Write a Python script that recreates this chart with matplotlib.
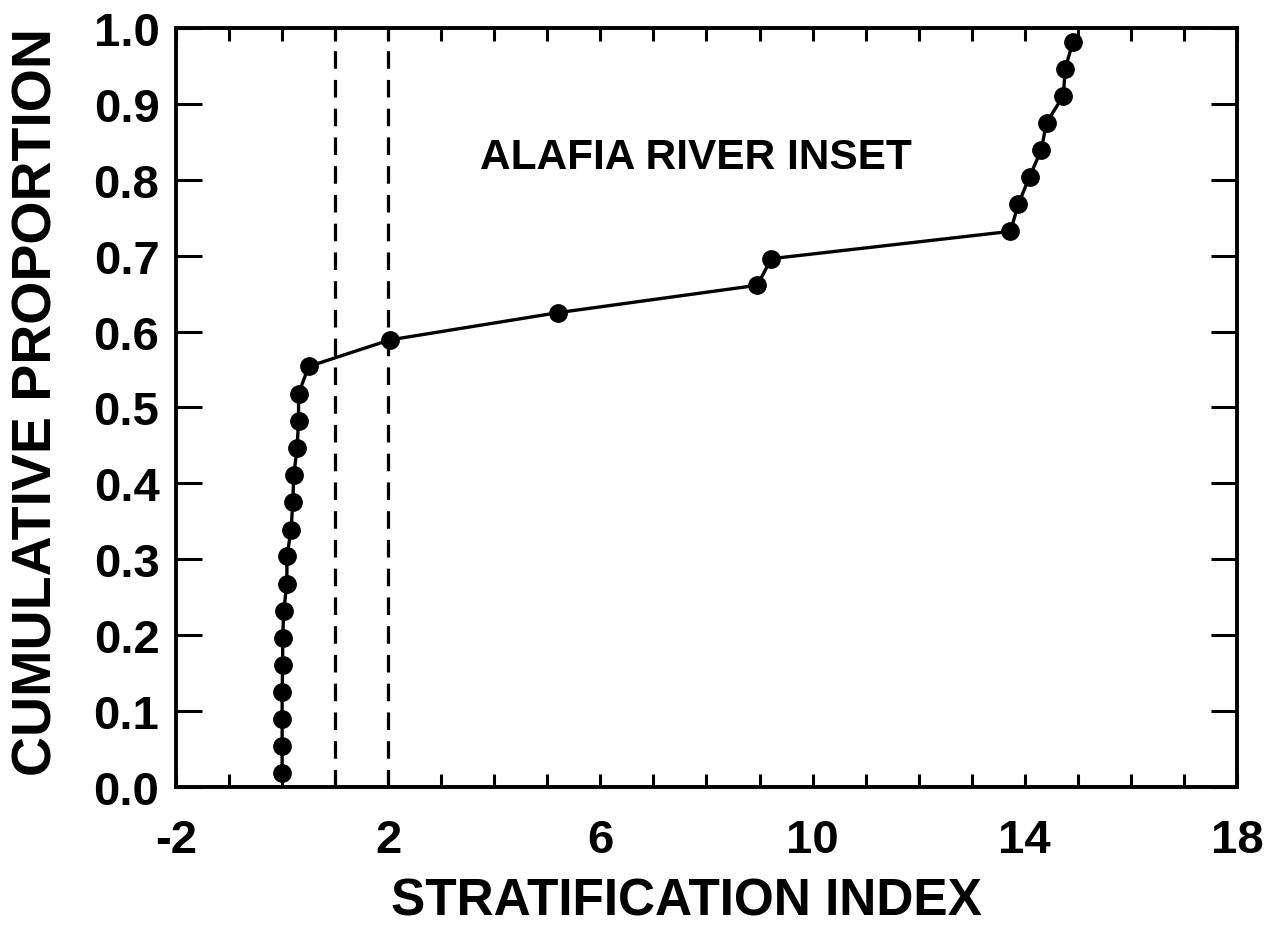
import matplotlib.pyplot as plt
from matplotlib.ticker import MultipleLocator, FixedLocator

plt.rcParams['font.family'] = ['Liberation Sans', 'DejaVu Sans']
plt.rcParams['font.weight'] = 'bold'
plt.rcParams['axes.unicode_minus'] = False

# stratification index per station, sorted, with plotting-position proportions
strat_index = [0.0, 0.0, 0.0, 0.0, 0.01, 0.01, 0.03, 0.09, 0.09, 0.17,
               0.2, 0.22, 0.28, 0.31, 0.31, 0.5, 2.03, 5.21, 8.96, 9.22,
               13.73, 13.88, 14.09, 14.31, 14.41, 14.73, 14.76, 14.91]
cum_prop = [0.018, 0.054, 0.089, 0.125, 0.161, 0.196, 0.232, 0.268, 0.304,
            0.339, 0.375, 0.411, 0.446, 0.482, 0.518, 0.554, 0.589, 0.625,
            0.661, 0.696, 0.732, 0.768, 0.804, 0.839, 0.875, 0.911, 0.946,
            0.982]
thresholds = [1, 2]
x_ticklabels = [-2, 2, 6, 10, 14, 18]

fig = plt.figure(figsize=(12.85, 9.28), dpi=100)
ax = fig.add_axes([0.137, 0.1509, 0.8256, 0.8179])

for t in thresholds:
    ax.axvline(t, color='black', lw=2.3, linestyle=(0, (5.5, 3.5)), zorder=1)

ax.plot(strat_index, cum_prop, color='black', lw=2.4, marker='o',
        markersize=12.5, zorder=3)

ax.text(3.73, 0.83, 'ALAFIA RIVER INSET', fontsize=30.5, fontweight='bold',
        ha='left', va='center')

ax.set_xlim(-2, 18)
ax.set_ylim(0, 1.0)
ax.xaxis.set_major_locator(FixedLocator(x_ticklabels))
ax.xaxis.set_minor_locator(MultipleLocator(1))
ax.yaxis.set_major_locator(MultipleLocator(0.1))
ax.set_yticklabels([f'{v:.1f}' for v in ax.get_yticks()])

ax.tick_params(axis='both', which='both', direction='in', top=True, right=True,
               width=2.2, labelsize=34)
ax.tick_params(axis='x', which='both', length=9.5, pad=22)
ax.tick_params(axis='y', which='both', length=19, pad=12)
for lbl in ax.get_xticklabels() + ax.get_yticklabels():
    lbl.set_fontweight('bold')
for sp in ax.spines.values():
    sp.set_linewidth(2.8)

fig.text(0.534, 0.028, 'STRATIFICATION INDEX', fontsize=37, fontweight='bold',
         ha='center', va='center')
fig.text(0.029, 0.567, 'CUMULATIVE PROPORTION', fontsize=40, fontweight='bold',
         ha='center', va='center', rotation=90)

fig.savefig('out.png', dpi=100)
